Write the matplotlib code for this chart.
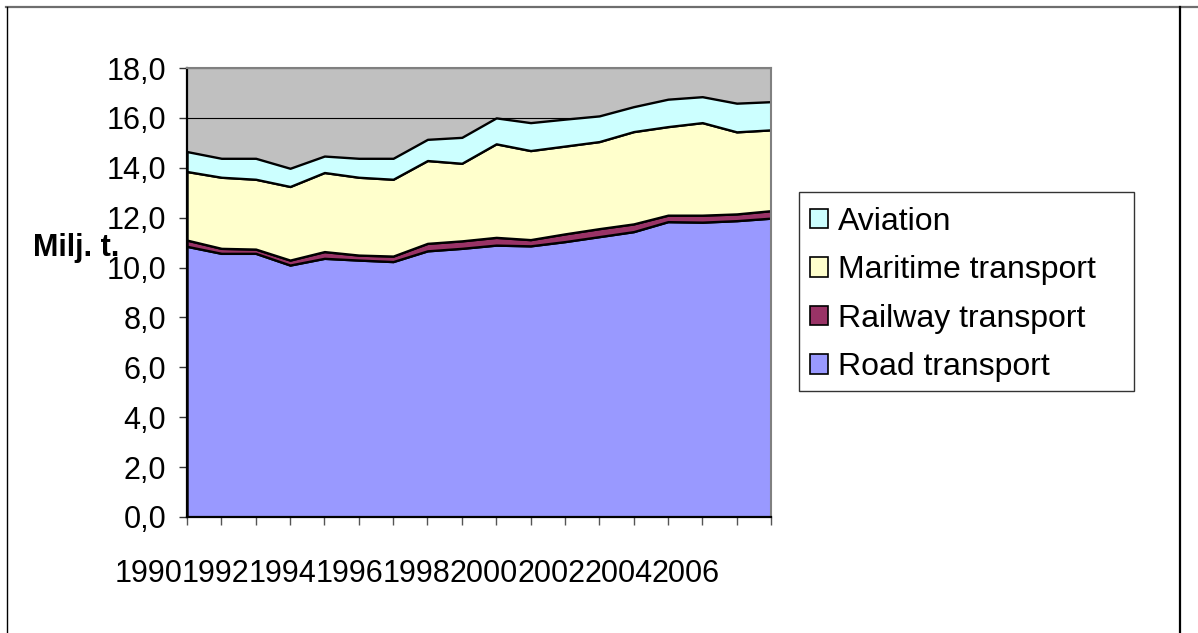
import matplotlib
matplotlib.use("Agg")
import matplotlib.pyplot as plt
from matplotlib.patches import Patch, Rectangle
from matplotlib.lines import Line2D
from matplotlib.ticker import FuncFormatter


# =========================
# Data (Milj. t.)
# =========================

YEARS = list(range(1990, 2008))

ROAD = [10.85, 10.57, 10.57, 10.10, 10.37, 10.30, 10.24, 10.67, 10.77,
        10.90, 10.87, 11.04, 11.24, 11.44, 11.84, 11.82, 11.88, 11.98]
RAILWAY = [0.25, 0.20, 0.17, 0.20, 0.27, 0.20, 0.22, 0.30, 0.30,
           0.31, 0.25, 0.31, 0.32, 0.31, 0.26, 0.28, 0.27, 0.30]
MARITIME = [2.75, 2.85, 2.80, 2.95, 3.17, 3.12, 3.08, 3.32, 3.11,
            3.75, 3.57, 3.52, 3.49, 3.70, 3.55, 3.71, 3.29, 3.24]
AVIATION = [0.80, 0.76, 0.84, 0.73, 0.66, 0.76, 0.84, 0.85, 1.04,
            1.04, 1.12, 1.08, 1.03, 1.00, 1.10, 1.04, 1.15, 1.13]

SERIES_NAMES = ["Road transport", "Railway transport", "Maritime transport", "Aviation"]
SERIES_COLORS = ["#9999FF", "#993366", "#FFFFCC", "#CCFFFF"]

Y_TICKS = [0, 2, 4, 6, 8, 10, 12, 14, 16, 18]
X_LABELS = ["1990", "1992", "1994", "1996", "1998", "2000", "2002", "2004", "2006"]
Y_LABEL = "Milj. t."

FONT = "Liberation Sans"


def comma_fmt(v, pos):
    return f"{v:.1f}".replace(".", ",")


def main():
    W, H = 1198, 633
    fig = plt.figure(figsize=(W / 100, H / 100), dpi=100)
    fig.patch.set_facecolor("white")

    # plot area in pixels: x 187..771, y 68..517
    px_left, px_right, px_top, px_bottom = 187, 771, 68, 517
    ax = fig.add_axes([px_left / W, 1 - px_bottom / H,
                       (px_right - px_left) / W, (px_bottom - px_top) / H])
    ax.set_facecolor("#C0C0C0")

    ax.set_axisbelow(True)
    ax.yaxis.grid(True, color="black", linewidth=0.8)

    ax.stackplot(YEARS, ROAD, RAILWAY, MARITIME, AVIATION,
                 colors=SERIES_COLORS, edgecolor="black", linewidth=1.7)

    ax.set_xlim(YEARS[0], YEARS[-1])
    ax.set_ylim(0, 18)

    # -------------------------
    # Axes styling
    # -------------------------
    for side in ["left", "bottom"]:
        ax.spines[side].set_color("black")
        ax.spines[side].set_linewidth(1.6)
    for side in ["top", "right"]:
        ax.spines[side].set_color("#808080")
        ax.spines[side].set_linewidth(1.5)

    ax.set_yticks(Y_TICKS)
    ax.yaxis.set_major_formatter(FuncFormatter(comma_fmt))
    ax.tick_params(axis="y", length=6, width=1, color="#333333", pad=9,
                   labelsize=22)
    for lab in ax.get_yticklabels():
        lab.set_fontfamily(FONT)

    ax.set_xticks(YEARS)
    ax.set_xticklabels([])
    ax.tick_params(axis="x", length=6, width=1, color="#555555")

    # Excel packed the category labels side by side, left of their ticks
    plot_w = px_right - px_left
    plot_h = px_bottom - px_top
    for i, lab in enumerate(X_LABELS):
        cx = (148.5 + 67.1 * i - px_left) / plot_w
        ax.text(cx, -(574 - px_bottom) / plot_h, lab, transform=ax.transAxes,
                ha="center", va="center", fontsize=22, family=FONT,
                clip_on=False)

    fig.text(33 / W, 1 - 256 / H, Y_LABEL, fontsize=22, fontweight="bold",
             family=FONT, ha="left", va="baseline")

    # -------------------------
    # Legend (reversed order), frame drawn separately
    # -------------------------
    fig.add_artist(Rectangle((799 / W, 1 - 391 / H), (1134 - 799) / W,
                             (391 - 192) / H, transform=fig.transFigure,
                             facecolor="white", edgecolor="#333333",
                             linewidth=1.0, zorder=2))
    handles = [Patch(facecolor=c, edgecolor="black", linewidth=1.2)
               for c in SERIES_COLORS][::-1]
    leg = fig.legend(handles, SERIES_NAMES[::-1], loc="center left",
                     bbox_to_anchor=(810 / W, 1 - 294.5 / H),
                     prop={"family": FONT, "size": 23},
                     frameon=False,
                     handlelength=0.56, handleheight=0.55, handletextpad=0.31,
                     labelspacing=0.58, borderpad=0, borderaxespad=0)
    leg.set_zorder(3)

    # -------------------------
    # Outer chart border
    # -------------------------
    fig.add_artist(Line2D([6 / W, 1], [1 - 6.5 / H, 1 - 6.5 / H],
                          color="#6E6E6E", linewidth=1.6,
                          transform=fig.transFigure))
    fig.add_artist(Line2D([6.5 / W, 6.5 / W], [0, 1 - 6.5 / H],
                          color="black", linewidth=1.0,
                          transform=fig.transFigure))
    fig.add_artist(Line2D([1180 / W, 1180 / W], [0, 1 - 6.5 / H],
                          color="black", linewidth=1.6,
                          transform=fig.transFigure))

    fig.savefig("out.png", dpi=100)


if __name__ == "__main__":
    main()
